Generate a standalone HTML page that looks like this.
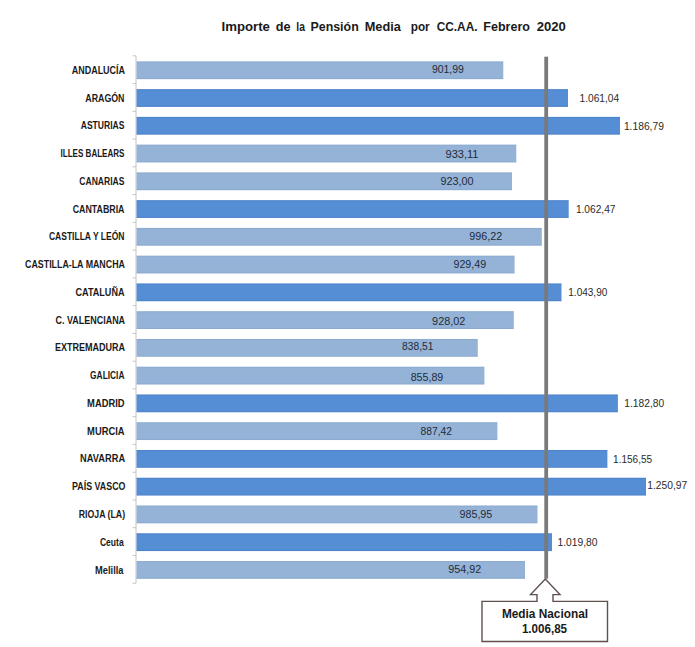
<!DOCTYPE html><html><head><meta charset="utf-8"><title>Pension media</title>
<style>html,body{margin:0;padding:0;background:#fff}svg{display:block}text{font-family:"Liberation Sans",sans-serif}</style></head><body>
<svg width="695" height="647" viewBox="0 0 695 647">
<defs>
<linearGradient id="gl" x1="0" y1="0" x2="0" y2="1"><stop offset="0" stop-color="#88a8cf"/><stop offset="0.1" stop-color="#95b3d7"/><stop offset="0.9" stop-color="#95b3d7"/><stop offset="1" stop-color="#88a8cf"/></linearGradient>
<linearGradient id="gd" x1="0" y1="0" x2="0" y2="1"><stop offset="0" stop-color="#4a80c8"/><stop offset="0.1" stop-color="#558ed5"/><stop offset="0.9" stop-color="#558ed5"/><stop offset="1" stop-color="#4a80c8"/></linearGradient>
</defs>
<rect width="695" height="647" fill="#ffffff"/>
<g stroke="#c4c4c4" stroke-width="1" fill="none"><path d="M136,55.8V583.2"/>
<path d="M132.5,55.8H136"/>
<path d="M132.5,83.6H136"/>
<path d="M132.5,111.3H136"/>
<path d="M132.5,139.1H136"/>
<path d="M132.5,166.8H136"/>
<path d="M132.5,194.6H136"/>
<path d="M132.5,222.4H136"/>
<path d="M132.5,250.1H136"/>
<path d="M132.5,277.9H136"/>
<path d="M132.5,305.6H136"/>
<path d="M132.5,333.4H136"/>
<path d="M132.5,361.2H136"/>
<path d="M132.5,388.9H136"/>
<path d="M132.5,416.7H136"/>
<path d="M132.5,444.4H136"/>
<path d="M132.5,472.2H136"/>
<path d="M132.5,500.0H136"/>
<path d="M132.5,527.7H136"/>
<path d="M132.5,555.5H136"/>
<path d="M132.5,583.2H136"/>
</g>
<rect x="136.5" y="61.35" width="366.8" height="17.8" fill="url(#gl)"/>
<rect x="136.5" y="89.11" width="431.5" height="17.8" fill="url(#gd)"/>
<rect x="136.5" y="116.87" width="483.5" height="17.8" fill="url(#gd)"/>
<rect x="136.5" y="144.63" width="379.8" height="17.8" fill="url(#gl)"/>
<rect x="136.5" y="172.39" width="375.5" height="17.8" fill="url(#gl)"/>
<rect x="136.5" y="200.15" width="432.2" height="17.8" fill="url(#gd)"/>
<rect x="136.5" y="227.91" width="405.3" height="17.8" fill="url(#gl)"/>
<rect x="136.5" y="255.67" width="378.1" height="17.8" fill="url(#gl)"/>
<rect x="136.5" y="283.43" width="425.0" height="17.8" fill="url(#gd)"/>
<rect x="136.5" y="311.19" width="377.3" height="17.8" fill="url(#gl)"/>
<rect x="136.5" y="338.95" width="341.3" height="17.8" fill="url(#gl)"/>
<rect x="136.5" y="366.71" width="347.9" height="17.8" fill="url(#gl)"/>
<rect x="136.5" y="394.47" width="481.4" height="17.8" fill="url(#gd)"/>
<rect x="136.5" y="422.23" width="360.9" height="17.8" fill="url(#gl)"/>
<rect x="136.5" y="449.99" width="470.9" height="17.8" fill="url(#gd)"/>
<rect x="136.5" y="477.75" width="509.5" height="17.8" fill="url(#gd)"/>
<rect x="136.5" y="505.51" width="401.0" height="17.8" fill="url(#gl)"/>
<rect x="136.5" y="533.27" width="415.5" height="17.8" fill="url(#gd)"/>
<rect x="136.5" y="561.03" width="388.5" height="17.8" fill="url(#gl)"/>
<rect x="544.3" y="56.7" width="3.8" height="522" fill="#7a7a7a"/>
<path d="M482,601.4H537V594.6H530.6L545.3,579L560,594.6H553V601.4H607.5V641.5H482Z" fill="#ffffff" stroke="#604f4f" stroke-width="1.4" stroke-linejoin="miter"/>
<text x="221.50" y="30.70" font-size="12.5" font-weight="bold" fill="#1a1a1a" textLength="48.40" lengthAdjust="spacingAndGlyphs">Importe</text>
<text x="275.70" y="30.70" font-size="12.5" font-weight="bold" fill="#1a1a1a" textLength="14.80" lengthAdjust="spacingAndGlyphs">de</text>
<text x="296.30" y="30.70" font-size="12.5" font-weight="bold" fill="#1a1a1a" textLength="8.60" lengthAdjust="spacingAndGlyphs">la</text>
<text x="310.50" y="30.70" font-size="12.5" font-weight="bold" fill="#1a1a1a" textLength="48.20" lengthAdjust="spacingAndGlyphs">Pensión</text>
<text x="364.70" y="30.70" font-size="12.5" font-weight="bold" fill="#1a1a1a" textLength="36.20" lengthAdjust="spacingAndGlyphs">Media</text>
<text x="410.70" y="30.70" font-size="12.5" font-weight="bold" fill="#1a1a1a" textLength="19.00" lengthAdjust="spacingAndGlyphs">por</text>
<text x="436.70" y="30.70" font-size="12.5" font-weight="bold" fill="#1a1a1a" textLength="40.80" lengthAdjust="spacingAndGlyphs">CC.AA.</text>
<text x="483.30" y="30.70" font-size="12.5" font-weight="bold" fill="#1a1a1a" textLength="46.60" lengthAdjust="spacingAndGlyphs">Febrero</text>
<text x="536.70" y="30.70" font-size="12.5" font-weight="bold" fill="#1a1a1a" textLength="29.20" lengthAdjust="spacingAndGlyphs">2020</text>
<text x="71.70" y="73.85" font-size="10.2" font-weight="bold" fill="#1a1a1a" textLength="53.40" lengthAdjust="spacingAndGlyphs">ANDALUCÍA</text>
<text x="85.30" y="101.61" font-size="10.2" font-weight="bold" fill="#1a1a1a" textLength="39.20" lengthAdjust="spacingAndGlyphs">ARAGÓN</text>
<text x="80.70" y="129.37" font-size="10.2" font-weight="bold" fill="#1a1a1a" textLength="43.80" lengthAdjust="spacingAndGlyphs">ASTURIAS</text>
<text x="60.50" y="157.13" font-size="10.2" font-weight="bold" fill="#1a1a1a" textLength="64.00" lengthAdjust="spacingAndGlyphs">ILLES BALEARS</text>
<text x="79.30" y="184.89" font-size="10.2" font-weight="bold" fill="#1a1a1a" textLength="45.20" lengthAdjust="spacingAndGlyphs">CANARIAS</text>
<text x="72.70" y="212.65" font-size="10.2" font-weight="bold" fill="#1a1a1a" textLength="51.80" lengthAdjust="spacingAndGlyphs">CANTABRIA</text>
<text x="48.90" y="240.41" font-size="10.2" font-weight="bold" fill="#1a1a1a" textLength="75.60" lengthAdjust="spacingAndGlyphs">CASTILLA Y LEÓN</text>
<text x="25.10" y="268.17" font-size="10.2" font-weight="bold" fill="#1a1a1a" textLength="99.80" lengthAdjust="spacingAndGlyphs">CASTILLA-LA MANCHA</text>
<text x="75.50" y="295.93" font-size="10.2" font-weight="bold" fill="#1a1a1a" textLength="49.00" lengthAdjust="spacingAndGlyphs">CATALUÑA</text>
<text x="55.50" y="323.69" font-size="10.2" font-weight="bold" fill="#1a1a1a" textLength="69.60" lengthAdjust="spacingAndGlyphs">C. VALENCIANA</text>
<text x="54.90" y="351.45" font-size="10.2" font-weight="bold" fill="#1a1a1a" textLength="70.20" lengthAdjust="spacingAndGlyphs">EXTREMADURA</text>
<text x="90.10" y="379.21" font-size="10.2" font-weight="bold" fill="#1a1a1a" textLength="34.40" lengthAdjust="spacingAndGlyphs">GALICIA</text>
<text x="87.10" y="406.97" font-size="10.2" font-weight="bold" fill="#1a1a1a" textLength="37.40" lengthAdjust="spacingAndGlyphs">MADRID</text>
<text x="87.10" y="434.73" font-size="10.2" font-weight="bold" fill="#1a1a1a" textLength="37.40" lengthAdjust="spacingAndGlyphs">MURCIA</text>
<text x="80.10" y="462.49" font-size="10.2" font-weight="bold" fill="#1a1a1a" textLength="45.00" lengthAdjust="spacingAndGlyphs">NAVARRA</text>
<text x="72.10" y="490.25" font-size="10.2" font-weight="bold" fill="#1a1a1a" textLength="53.40" lengthAdjust="spacingAndGlyphs">PAÍS VASCO</text>
<text x="78.70" y="518.01" font-size="10.2" font-weight="bold" fill="#1a1a1a" textLength="46.40" lengthAdjust="spacingAndGlyphs">RIOJA (LA)</text>
<text x="99.90" y="545.77" font-size="10.2" font-weight="bold" fill="#1a1a1a" textLength="23.80" lengthAdjust="spacingAndGlyphs">Ceuta</text>
<text x="95.10" y="573.53" font-size="10.2" font-weight="bold" fill="#1a1a1a" textLength="28.40" lengthAdjust="spacingAndGlyphs">Melilla</text>
<text x="431.90" y="72.95" font-size="10.1" font-weight="normal" fill="#222c3b" textLength="32.00" lengthAdjust="spacingAndGlyphs">901,99</text>
<text x="579.50" y="102.31" font-size="10.1" font-weight="normal" fill="#2b2b2b" textLength="39.60" lengthAdjust="spacingAndGlyphs">1.061,04</text>
<text x="623.90" y="129.57" font-size="10.1" font-weight="normal" fill="#2b2b2b" textLength="40.00" lengthAdjust="spacingAndGlyphs">1.186,79</text>
<text x="445.50" y="157.83" font-size="10.1" font-weight="normal" fill="#222c3b" textLength="33.00" lengthAdjust="spacingAndGlyphs">933,11</text>
<text x="440.50" y="184.74" font-size="10.1" font-weight="normal" fill="#222c3b" textLength="33.00" lengthAdjust="spacingAndGlyphs">923,00</text>
<text x="575.90" y="213.00" font-size="10.1" font-weight="normal" fill="#2b2b2b" textLength="39.60" lengthAdjust="spacingAndGlyphs">1.062,47</text>
<text x="469.30" y="240.41" font-size="10.1" font-weight="normal" fill="#222c3b" textLength="33.00" lengthAdjust="spacingAndGlyphs">996,22</text>
<text x="453.50" y="268.37" font-size="10.1" font-weight="normal" fill="#222c3b" textLength="32.60" lengthAdjust="spacingAndGlyphs">929,49</text>
<text x="568.30" y="296.43" font-size="10.1" font-weight="normal" fill="#2b2b2b" textLength="39.00" lengthAdjust="spacingAndGlyphs">1.043,90</text>
<text x="432.10" y="325.39" font-size="10.1" font-weight="normal" fill="#222c3b" textLength="33.20" lengthAdjust="spacingAndGlyphs">928,02</text>
<text x="402.10" y="350.10" font-size="10.1" font-weight="normal" fill="#222c3b" textLength="31.40" lengthAdjust="spacingAndGlyphs">838,51</text>
<text x="410.70" y="381.21" font-size="10.1" font-weight="normal" fill="#222c3b" textLength="32.60" lengthAdjust="spacingAndGlyphs">855,89</text>
<text x="624.30" y="407.12" font-size="10.1" font-weight="normal" fill="#2b2b2b" textLength="39.80" lengthAdjust="spacingAndGlyphs">1.182,80</text>
<text x="420.50" y="435.38" font-size="10.1" font-weight="normal" fill="#222c3b" textLength="31.40" lengthAdjust="spacingAndGlyphs">887,42</text>
<text x="613.10" y="462.59" font-size="10.1" font-weight="normal" fill="#2b2b2b" textLength="39.00" lengthAdjust="spacingAndGlyphs">1.156,55</text>
<text x="647.30" y="489.00" font-size="10.1" font-weight="normal" fill="#2b2b2b" textLength="40.00" lengthAdjust="spacingAndGlyphs">1.250,97</text>
<text x="459.50" y="518.01" font-size="10.1" font-weight="normal" fill="#222c3b" textLength="32.80" lengthAdjust="spacingAndGlyphs">985,95</text>
<text x="557.50" y="545.77" font-size="10.1" font-weight="normal" fill="#2b2b2b" textLength="40.00" lengthAdjust="spacingAndGlyphs">1.019,80</text>
<text x="448.30" y="573.08" font-size="10.1" font-weight="normal" fill="#222c3b" textLength="32.80" lengthAdjust="spacingAndGlyphs">954,92</text>
<text x="501.90" y="617.90" font-size="12.5" font-weight="bold" fill="#1a1a1a" textLength="86.20" lengthAdjust="spacingAndGlyphs">Media Nacional</text>
<text x="521.90" y="632.70" font-size="12.5" font-weight="bold" fill="#1a1a1a" textLength="45.20" lengthAdjust="spacingAndGlyphs">1.006,85</text>
</svg></body></html>
